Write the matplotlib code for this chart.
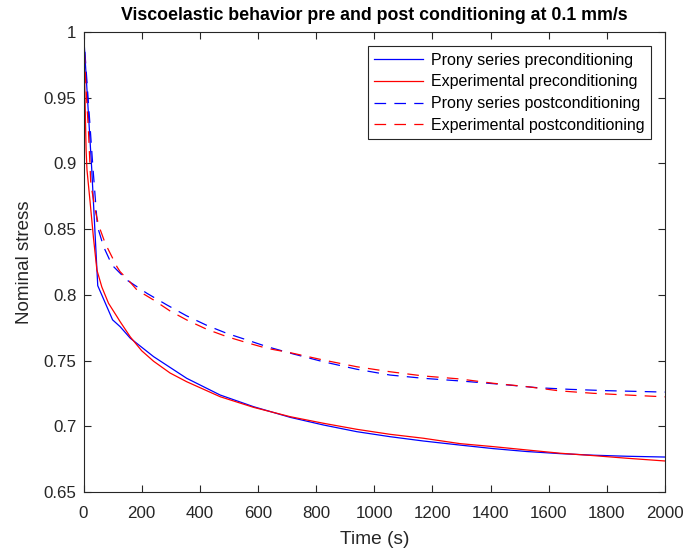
import matplotlib
matplotlib.use("Agg")
import matplotlib.pyplot as plt
from matplotlib.ticker import FuncFormatter

plt.rcParams['font.family'] = ['Liberation Sans', 'DejaVu Sans']

# Prony series, preconditioning
t_prony_pre = [0, 28, 49, 100, 126, 161, 241, 355, 470, 585, 711, 825, 940, 1054, 1169,
               1295, 1410, 1524, 1639, 1753, 1868, 2000]
s_prony_pre = [1.0, 0.897, 0.807, 0.781, 0.7758, 0.767, 0.753, 0.7365, 0.7238, 0.7149,
               0.7068, 0.7010, 0.6959, 0.6921, 0.6888, 0.6857, 0.6830, 0.6808, 0.6792,
               0.6780, 0.6772, 0.6766]

# Experimental, preconditioning
t_exp_pre = [0, 3, 5, 7, 9, 12, 23, 34, 46, 63, 86, 115, 126, 161, 200, 241, 298, 355,
             470, 585, 711, 825, 940, 1054, 1169, 1295, 1410, 1524, 1639, 1753, 1868, 2000]
s_exp_pre = [1.0, 0.975, 0.952, 0.930, 0.910, 0.895, 0.870, 0.844, 0.819, 0.806, 0.7936,
             0.7835, 0.7796, 0.768, 0.7575, 0.7495, 0.7405, 0.7339, 0.7225, 0.7144, 0.7073,
             0.7023, 0.6977, 0.6939, 0.6909, 0.6868, 0.6845, 0.6820, 0.6795, 0.6777,
             0.6757, 0.6736]

# Prony series, postconditioning
t_prony_post = [0, 17, 32, 48, 69, 98, 149, 218, 287, 355, 424, 493, 562, 631, 722, 825,
                940, 1054, 1169, 1295, 1433, 1559, 1673, 1800, 1948, 2000]
s_prony_post = [1.0, 0.946, 0.898, 0.852, 0.8367, 0.8227, 0.8113, 0.8012, 0.7923, 0.7840,
                0.7768, 0.7707, 0.7657, 0.7606, 0.7550, 0.7491, 0.7434, 0.7390, 0.7365,
                0.7345, 0.7320, 0.7294, 0.7281, 0.7271, 0.7263, 0.7260]

# Experimental, postconditioning
t_exp_post = [0, 8, 17, 25, 40, 52, 75, 115, 126, 155, 184, 241, 298, 355, 424, 493, 562,
              631, 711, 825, 940, 1054, 1169, 1295, 1410, 1524, 1639, 1753, 1868, 2000]
s_exp_post = [1.0, 0.960, 0.925, 0.885, 0.8646, 0.853, 0.839, 0.8214, 0.8176, 0.811,
              0.8037, 0.7961, 0.7877, 0.7809, 0.7738, 0.7682, 0.7636, 0.7593, 0.7560,
              0.7504, 0.7453, 0.7415, 0.7383, 0.7360, 0.7327, 0.7302, 0.7269, 0.7251,
              0.7238, 0.7224]

x_ticks = list(range(0, 2001, 200))
y_ticks = [0.65, 0.7, 0.75, 0.8, 0.85, 0.9, 0.95, 1.0]

fig = plt.figure(figsize=(6.84, 5.48), dpi=100)
ax = fig.add_axes([83.5 / 684, (548 - 492) / 548, (665 - 83.5) / 684, (492 - 32) / 548])

lw = 0.9
dash = (0, (9.3, 6.6))
ax.plot(t_prony_pre, s_prony_pre, color='#0000ff', lw=lw, label='Prony series preconditioning')
ax.plot(t_exp_pre, s_exp_pre, color='#ff0000', lw=lw, label='Experimental preconditioning')
ax.plot(t_prony_post, s_prony_post, color='#0000ff', lw=lw, ls=dash,
        label='Prony series postconditioning')
ax.plot(t_exp_post, s_exp_post, color='#ff0000', lw=lw, ls=dash,
        label='Experimental postconditioning')

ax.set_xlim(0, 2000)
ax.set_ylim(0.65, 1.0)
ax.set_xticks(x_ticks)
ax.set_yticks(y_ticks)
ax.yaxis.set_major_formatter(FuncFormatter(lambda v, p: ('%g' % round(v, 2))))

dark = '#262626'
for sp in ax.spines.values():
    sp.set_color(dark)
    sp.set_linewidth(0.8)
ax.tick_params(direction='in', top=True, right=True, length=5, width=0.8,
               colors=dark, labelsize=12.2, labelcolor=dark)
ax.tick_params(axis='x', pad=10)
ax.tick_params(axis='y', pad=5)

ax.set_xlabel('Time (s)', fontsize=13.8, color=dark, labelpad=7)
ax.set_ylabel('Nominal stress', fontsize=13.5, color=dark, labelpad=7.5)
ax.set_title('Viscoelastic behavior pre and post conditioning at 0.1 mm/s',
             fontsize=12.8, fontweight='bold', color='black', pad=9)

leg = ax.legend(loc='upper right', fontsize=11.5, frameon=True, fancybox=False,
                edgecolor=dark, framealpha=1, handlelength=3.1, handletextpad=0.45,
                borderpad=0.4, labelspacing=0.42, borderaxespad=0.9)
leg.get_frame().set_linewidth(0.8)

fig.savefig('out.png', dpi=100)
